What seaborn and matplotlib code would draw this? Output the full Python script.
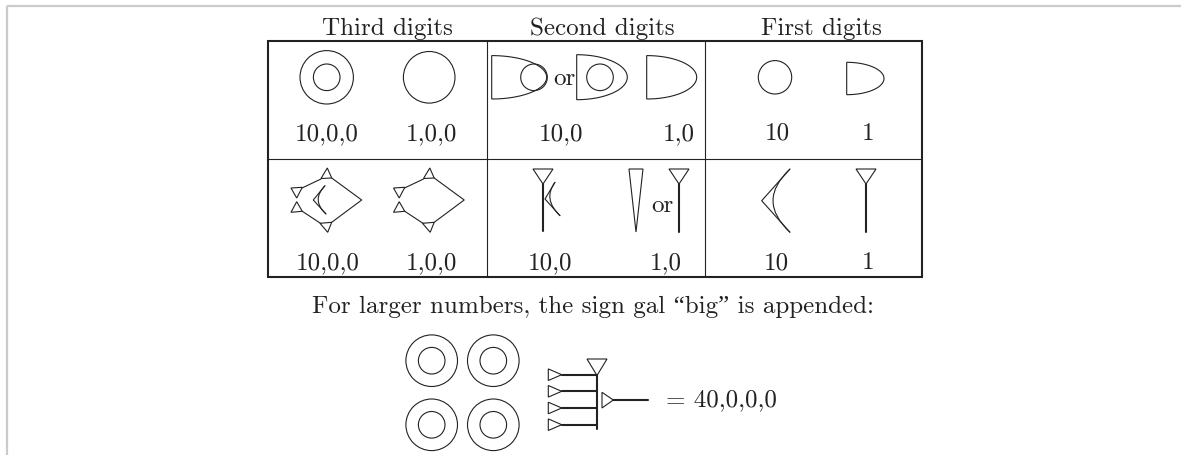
import numpy as np
import pandas as pd
import matplotlib
matplotlib.use("Agg")
import matplotlib.pyplot as plt
import seaborn as sns
from matplotlib.patches import Circle, Polygon, PathPatch
from matplotlib.path import Path

# ---------------- data (texts) ----------------
headers = ["Third digits", "Second digits", "First digits"]
header_x = [387, 602.5, 821.5]
row1_labels = ["10,0,0", "1,0,0", "10,0", "1,0", "10", "1"]
row1_label_x = [327, 431, 561, 679, 777, 868]
row2_labels = ["10,0,0", "1,0,0", "10,0", "1,0", "10", "1"]
row2_label_x = [327.5, 431.5, 550, 666, 776, 868]
or_words = ["or", "or"]
note_text = "For larger numbers, the sign gal \u201cbig\u201d is appended:"
result_text = "= 40,0,0,0"

INK = "#222222"
THIN = 0.8
THICK = 1.5

sns.set_theme(style="white")
plt.rcParams["font.family"] = ["cmr10", "Liberation Serif", "DejaVu Serif"]
plt.rcParams["axes.unicode_minus"] = False

fig = plt.figure(figsize=(11.81, 4.56), dpi=100)
ax = fig.add_axes([0, 0, 1, 1])

strokes = []  # (id, x, y, width-group)


def stroke(pts, group="thin"):
    sid = len(set(s[0] for s in strokes))
    for (x, y) in pts:
        strokes.append((sid, x, y, group))


def circ(x, y, r):
    ax.add_patch(Circle((x, y), r, fill=False, lw=THIN, ec=INK))


def poly(pts, lw=THIN):
    ax.add_patch(Polygon(pts, closed=True, fill=False, lw=lw, ec=INK, joinstyle="miter"))


def dshape(x0, yc, a, b):
    t = np.linspace(-np.pi / 2, np.pi / 2, 80)
    pts = np.c_[x0 + a * np.cos(t), yc + b * np.sin(t)]
    poly(pts)


def winkel(tip, top, bot, lw=THIN):
    tx, ty = tip
    stroke([top, tip, bot], "thin")
    mx = tx + 0.4 * ((top[0] + bot[0]) / 2 - tx)
    cx = 2 * mx - 0.5 * (top[0] + bot[0])
    cy = 2 * ty - 0.5 * (top[1] + bot[1])
    p = Path([top, (cx, cy), bot], [Path.MOVETO, Path.CURVE3, Path.CURVE3])
    ax.add_patch(PathPatch(p, fill=False, lw=lw, ec=INK))


def ysign(x, ytop, ybot, w=20, h=15):
    poly([(x - w / 2, ytop), (x + w / 2, ytop), (x, ytop + h)])
    stroke([(x, ytop + h), (x, ybot)], "thick")


def diamond(dx, inner=True):
    # top wedge
    poly([(321 + dx, 179.5), (331.7 + dx, 179), (327.3 + dx, 169)])
    # left wedges
    poly([(291 + dx, 189), (302.3 + dx, 188.3), (296.7 + dx, 199)])
    poly([(291 + dx, 213.3), (302.3 + dx, 212.3), (296.7 + dx, 202.7)])
    # bottom wedge
    poly([(320 + dx, 224.3), (331.7 + dx, 223.3), (327.7 + dx, 233.3)])
    # body
    stroke([(321 + dx, 180), (302 + dx, 189)])
    stroke([(331.7 + dx, 179), (361.7 + dx, 201), (331.7 + dx, 223.3)])
    stroke([(302.3 + dx, 212.3), (320.5 + dx, 224.3)])
    if inner:
        winkel((313.3 + dx, 201), (325 + dx, 186.7), (326 + dx, 215))


# ---------------- frame and table ----------------
ax.plot([6.5, 1181], [6.5, 6.5], color="#cbcbcb", lw=1.6, solid_capstyle="butt")
ax.plot([6.5, 6.5], [6.5, 456], color="#cbcbcb", lw=1.6, solid_capstyle="butt")

ax.add_patch(plt.Rectangle((268, 42), 922 - 268, 278 - 42, fill=False, lw=1.5, ec=INK))
stroke([(268, 160), (922, 160)], "thin")
stroke([(487, 42), (487, 278)], "thin")
stroke([(705, 42), (705, 278)], "thin")

# headers
for txt, x in zip(headers, header_x):
    ax.text(x, 35, txt, ha="center", va="baseline", fontsize=18, color=INK)
for txt, x in zip(row1_labels, row1_label_x):
    ax.text(x, 140, txt, ha="center", va="baseline", fontsize=18, color=INK)
for txt, x in zip(row2_labels, row2_label_x):
    ax.text(x, 269.5, txt, ha="center", va="baseline", fontsize=18, color=INK)

# ---------------- row 1 signs ----------------
circ(326.7, 78.3, 26.7)
circ(326.7, 78.3, 13.3)
circ(429.2, 78.3, 25.8)
dshape(491.7, 78.3, 55, 21.7)
circ(534, 78.3, 13.3)
ax.text(564, 85, or_words[0], ha="center", va="baseline", fontsize=18, color=INK)
dshape(576.7, 78.2, 50.6, 22.5)
circ(600, 78.3, 13.3)
dshape(646.7, 78.3, 50, 21.7)
circ(775, 78.3, 16.7)
dshape(846.7, 79.5, 37.3, 16.2)

# ---------------- row 2 signs ----------------
diamond(0, inner=True)
diamond(102.5, inner=False)
ysign(543, 170, 232)
winkel((545, 200), (555, 183.3), (560, 216.7))
poly([(629, 170), (643, 170), (636, 233)])
ax.text(662.5, 211.7, or_words[1], ha="center", va="baseline", fontsize=18, color=INK)
ysign(679, 170, 233)
winkel((761.7, 201.7), (790, 170), (790, 233.3))
ysign(866, 170, 233)

# ---------------- bottom note ----------------
ax.text(312, 313.3, note_text, ha="left", va="baseline", fontsize=18, color=INK)
for cx in (431.7, 493.3):
    for cy in (361.7, 425.8):
        circ(cx, cy, 25.8)
        circ(cx, cy, 13.3)

for yc in (375.7, 392.3, 409, 425.7):
    poly([(548.3, yc - 5.8), (548.3, yc + 5.8), (561.7, yc)])
    stroke([(561.7, yc), (597, yc)], "thick")
stroke([(597, 376), (597, 430.5)], "thick")
poly([(587, 360), (607, 360), (597, 376.5)])
poly([(602, 393.3), (602, 409), (613.3, 401)])
stroke([(613.3, 401), (648, 401)], "thick")
ax.text(665.5, 406.7, result_text, ha="left", va="baseline", fontsize=18, color=INK)

# draw all straight strokes through seaborn
df = pd.DataFrame(strokes, columns=["sid", "x", "y", "grp"])
for grp, lw in (("thin", THIN), ("thick", THICK)):
    sub = df[df.grp == grp]
    if len(sub):
        sns.lineplot(data=sub, x="x", y="y", units="sid", estimator=None, sort=False,
                     color=INK, lw=lw, ax=ax, legend=False)

ax.set_xlim(0, 1181)
ax.set_ylim(456, 0)
ax.axis("off")
fig.savefig("out.png", dpi=100, facecolor="white")
